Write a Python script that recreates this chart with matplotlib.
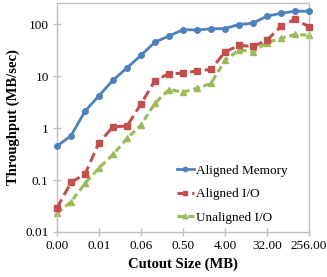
import matplotlib
matplotlib.use("Agg")
import matplotlib.pyplot as plt
from matplotlib.ticker import FixedLocator, NullLocator

# cutout sizes (MB), one category per doubling
cutout_mb = [1/1024, 1/512, 1/256, 1/128, 1/64, 1/32, 1/16, 1/8, 1/4, 1/2,
             1, 2, 4, 8, 16, 32, 64, 128, 256]
aligned_mem = [0.45, 0.71, 2.1, 4.2, 8.3, 14.4, 25, 45, 59, 78,
               77, 81, 82, 98, 104, 142, 161, 176, 177]
aligned_io = [0.029, 0.090, 0.13, 0.52, 1.06, 1.09, 2.9, 8.2, 11.1, 11.3,
              12.5, 13.4, 29, 39, 37, 49, 91, 123, 89]
unaligned_io = [0.023, 0.038, 0.086, 0.17, 0.31, 0.63, 1.14, 3.0, 5.5, 4.9,
                5.8, 7.2, 20, 32, 29, 44, 53, 63, 61]

serif = ["Liberation Serif", "DejaVu Serif"]
plt.rcParams["font.family"] = serif

fig = plt.figure(figsize=(3.27, 2.77), dpi=100)
ax = fig.add_axes([57/327, 1 - 232/277, 252/327, 229/277])

xs = list(range(len(cutout_mb)))
ax.plot(xs, aligned_mem, color="#4F81BD", lw=2.0, marker="o", ms=4,
        label="Aligned Memory", clip_on=False, zorder=4)
ax.plot(xs, aligned_io, color="#C0504D", lw=2.2, ls=(0, (3.2, 1.6)), marker="s", ms=3.8,
        label="Aligned I/O", clip_on=False, zorder=3)
ax.plot(xs, unaligned_io, color="#9BBB59", lw=2.2, ls=(0, (2.2, 1.3)), marker="^", ms=4.2,
        label="Unaligned I/O", clip_on=False, zorder=2)

ax.set_yscale("log")
ax.set_ylim(0.01, 254)
ax.set_xlim(0, len(cutout_mb) - 1)
ax.yaxis.set_major_locator(FixedLocator([0.01, 0.1, 1, 10, 100]))
ax.yaxis.set_minor_locator(NullLocator())
ax.set_yticklabels(["0.01", "0.1", "1", "10", "100"])
tick_idx = xs[::3]
ax.set_xticks(tick_idx)
ax.set_xticklabels([f"{cutout_mb[i]:.2f}" for i in tick_idx])

for s in ax.spines.values():
    s.set_color("#BFBFBF")
    s.set_linewidth(1.0)
ax.tick_params(axis="both", direction="inout", length=6, width=1, color="#BFBFBF",
               labelsize=9.5, pad=3)

ax.set_xlabel("Cutout Size (MB)", fontsize=10.5, fontweight="bold", labelpad=4)
ax.set_ylabel("Throughput (MB/sec)", fontsize=10.5, fontweight="bold", labelpad=4)

leg = ax.legend(loc="upper left", bbox_to_anchor=(0.475, 0.295), frameon=False,
                fontsize=9.5, handlelength=1.3, handletextpad=0.15, labelspacing=0.85,
                borderaxespad=0, borderpad=0, markerscale=0.8)

fig.savefig("out.png", dpi=100)
